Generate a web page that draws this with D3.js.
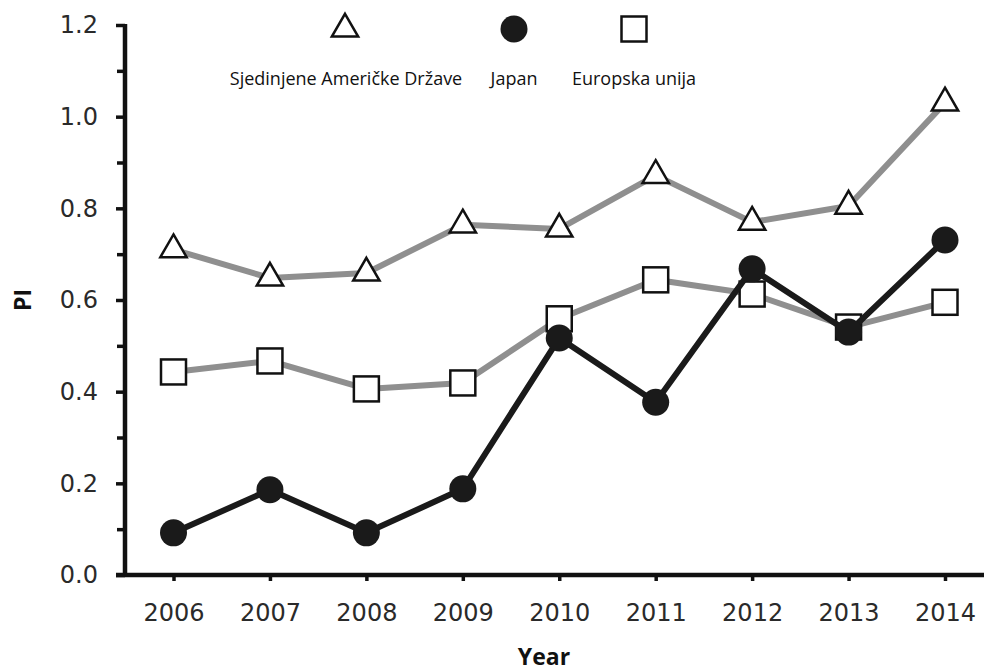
<!DOCTYPE html>
<html><head><meta charset="utf-8">
<script src="https://cdn.jsdelivr.net/npm/d3@7"></script>
<style>body{margin:0;background:#fff}svg{display:block}</style>
</head><body>
<svg id="c" width="984" height="672"></svg>
<script>
const years = [2006, 2007, 2008, 2009, 2010, 2011, 2012, 2013, 2014];
const usa   = [0.71, 0.648, 0.659, 0.764, 0.755, 0.872, 0.77, 0.805, 1.03];
const japan = [0.092, 0.186, 0.092, 0.188, 0.517, 0.377, 0.668, 0.53, 0.731];
const eu    = [0.443, 0.467, 0.406, 0.419, 0.559, 0.644, 0.613, 0.541, 0.595];
const yTicks = [0, 0.2, 0.4, 0.6, 0.8, 1.0, 1.2];
const yMinorTicks = [0.1, 0.3, 0.5, 0.7, 0.9, 1.1];
const legendLabels = ["Sjedinjene Američke Države", "Japan", "Europska unija"];

const svg = d3.select("#c");
const x = d3.scaleLinear().domain([2006, 2014]).range([173.5, 945]);
const y = d3.scaleLinear().domain([0, 1.2]).range([575, 25]);
const tickFont = "'DejaVu Sans', sans-serif";
const font = "'Open Sans', 'DejaVu Sans', sans-serif";

// Y axis
const yAxis = d3.axisLeft(y).tickValues(yTicks).tickFormat(d3.format(".1f")).tickSize(9).tickPadding(18);
const gy = svg.append("g").attr("transform", "translate(125,0)").call(yAxis);
gy.select(".domain").remove();
gy.selectAll(".tick line").attr("stroke", "#111").attr("stroke-width", 3.5);
gy.selectAll(".tick text").attr("font-family", tickFont).attr("font-size", 24).attr("fill", "#2a2a2a");
svg.append("g").attr("transform", "translate(125,0)")
  .call(d3.axisLeft(y).tickValues(yMinorTicks).tickFormat("").tickSize(8))
  .call(g => g.select(".domain").remove())
  .selectAll(".tick line").attr("stroke", "#111").attr("stroke-width", 3.5);
svg.append("line").attr("x1", 125).attr("x2", 125).attr("y1", y(1.2) - 1).attr("y2", y(0) + 2)
  .attr("stroke", "#111").attr("stroke-width", 4.5);

// X axis
const xAxis = d3.axisBottom(x).tickValues(years).tickFormat(d3.format("d")).tickSize(6).tickPadding(23);
const gx = svg.append("g").attr("transform", "translate(0,575)").call(xAxis);
gx.select(".domain").remove();
gx.selectAll(".tick line").attr("stroke", "#111").attr("stroke-width", 3.5);
gx.selectAll(".tick text").attr("font-family", tickFont).attr("font-size", 24).attr("fill", "#2a2a2a");
svg.append("line").attr("x1", 116).attr("x2", 984).attr("y1", 575).attr("y2", 575)
  .attr("stroke", "#111").attr("stroke-width", 4.5);

// Axis titles
svg.append("text").attr("x", 544).attr("y", 665).attr("text-anchor", "middle")
  .attr("font-family", font).attr("font-weight", "bold").attr("font-size", 23).attr("fill", "#111").text("Year");
svg.append("text").attr("transform", "translate(31,300) rotate(-90)").attr("text-anchor", "middle")
  .attr("font-family", font).attr("font-weight", "bold").attr("font-size", 23).attr("fill", "#111").text("PI");

const line = d3.line().x((d, i) => x(years[i])).y(d => y(d));

function series(data, color, shape) {
  svg.append("path").datum(data).attr("d", line).attr("fill", "none")
    .attr("stroke", color).attr("stroke-width", 6).attr("stroke-linejoin", "round");
  const g = svg.append("g");
  data.forEach((v, i) => drawMarker(g, x(years[i]), y(v), shape));
}

function drawMarker(g, cx, cy, shape) {
  if (shape === "tri") {
    g.append("path").attr("transform", `translate(${cx},${cy})`)
      .attr("d", d3.symbol(d3.symbolTriangle, 300)())
      .attr("fill", "#fff").attr("stroke", "#111").attr("stroke-width", 2.5);
  } else if (shape === "sq") {
    g.append("rect").attr("x", cx - 12.5).attr("y", cy - 12.5).attr("width", 25).attr("height", 25)
      .attr("fill", "#fff").attr("stroke", "#111").attr("stroke-width", 2.5);
  } else {
    g.append("circle").attr("cx", cx).attr("cy", cy).attr("r", 13.5).attr("fill", "#1a1a1a");
  }
}

series(usa, "#8f8f8f", "tri");
series(eu, "#8f8f8f", "sq");
series(japan, "#1a1a1a", "circ");

// Legend
const legendX = [345, 514, 634];
const shapes = ["tri", "circ", "sq"];
const lg = svg.append("g");
legendLabels.forEach((t, i) => {
  drawMarker(lg, legendX[i], 29, shapes[i]);
  lg.append("text").attr("x", legendX[i] + (i === 0 ? 1 : 0)).attr("y", 85).attr("text-anchor", "middle")
    .attr("font-family", font).attr("font-size", 18).attr("fill", "#111").text(t);
});
</script>
</body></html>
